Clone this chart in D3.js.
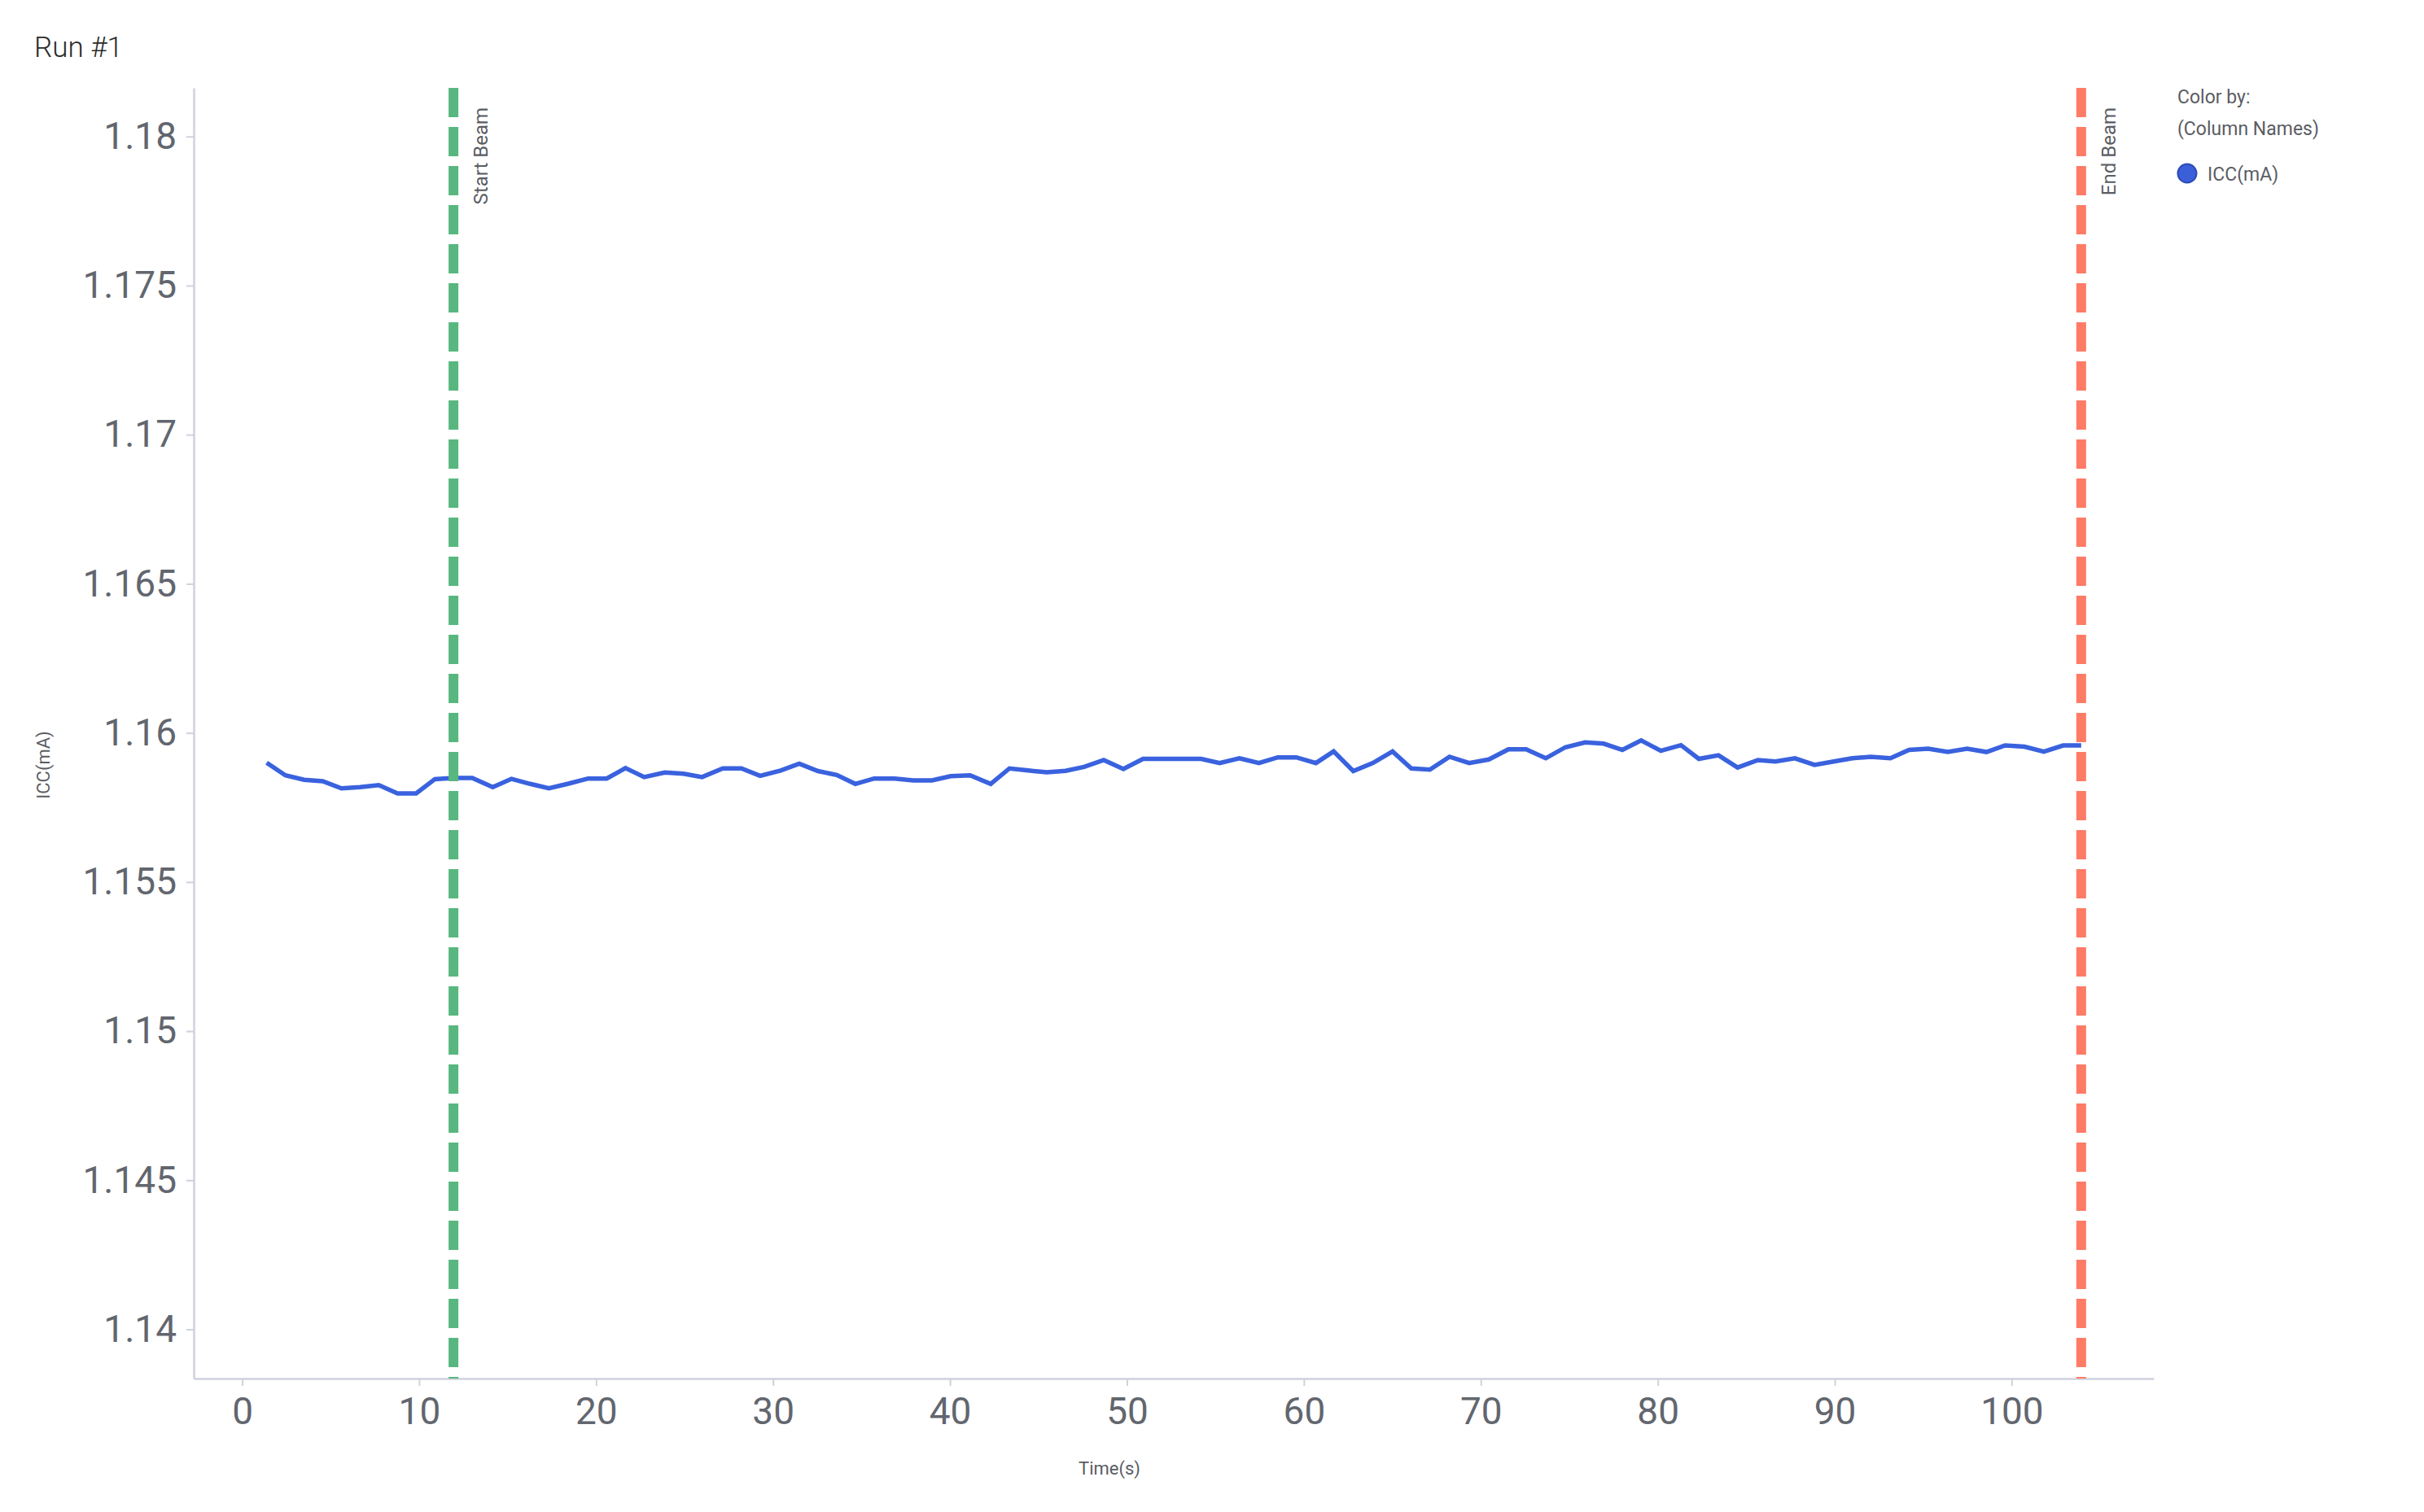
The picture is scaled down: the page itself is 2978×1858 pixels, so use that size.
<!DOCTYPE html>
<html><head><meta charset="utf-8">
<script src="https://cdn.jsdelivr.net/npm/d3@7"></script>
<style>body{margin:0;background:#fff;} svg{display:block}</style>
</head><body><svg id="c" width="2978" height="1858"></svg>
<script>
// ---- data ----
const times = [1.38,2.44,3.50,4.55,5.61,6.66,7.72,8.78,9.83,10.89,11.94,13.00,14.16,15.22,16.28,17.33,18.39,19.55,20.60,21.66,22.72,23.88,24.94,25.99,27.16,28.21,29.27,30.43,31.48,32.54,33.60,34.65,35.71,36.87,37.92,38.98,40.04,41.14,42.30,43.36,44.42,45.47,46.53,47.58,48.69,49.80,50.91,52.02,53.08,54.19,55.24,56.35,57.46,58.52,59.57,60.68,61.68,62.79,63.90,65.01,66.07,67.12,68.23,69.34,70.45,71.56,72.56,73.67,74.78,75.89,76.94,78.00,79.06,80.17,81.31,82.32,83.43,84.51,85.66,86.65,87.75,88.86,89.94,90.99,92.04,93.15,94.20,95.28,96.39,97.48,98.58,99.63,100.72,101.82,102.91,103.93];
const icc = [1.15900,1.15858,1.15843,1.15838,1.15814,1.15818,1.15825,1.15797,1.15797,1.15845,1.15849,1.15849,1.15818,1.15846,1.15829,1.15814,1.15829,1.15847,1.15847,1.15882,1.15852,1.15867,1.15863,1.15852,1.15881,1.15881,1.15856,1.15874,1.15897,1.15872,1.15859,1.15829,1.15847,1.15847,1.15841,1.15841,1.15855,1.15858,1.15829,1.15881,1.15874,1.15868,1.15873,1.15886,1.15909,1.15879,1.15913,1.15913,1.15913,1.15913,1.15899,1.15915,1.15899,1.15918,1.15918,1.15899,1.15938,1.15872,1.15899,1.15938,1.15881,1.15877,1.15920,1.15899,1.15911,1.15945,1.15945,1.15915,1.15952,1.15968,1.15964,1.15943,1.15975,1.15940,1.15959,1.15913,1.15925,1.15884,1.15909,1.15904,1.15915,1.15893,1.15904,1.15915,1.15920,1.15915,1.15943,1.15947,1.15936,1.15947,1.15936,1.15958,1.15954,1.15937,1.15958,1.15958];
const xTicks = [0,10,20,30,40,50,60,70,80,90,100];
const yTicks = [1.14,1.145,1.15,1.155,1.16,1.165,1.17,1.175,1.18];
const yTickLabels = ["1.14","1.145","1.15","1.155","1.16","1.165","1.17","1.175","1.18"];
const beamTimes = [11.94, 103.93];
const beamLabels = ["Start Beam", "End Beam"];
const seriesName = "ICC(mA)";
const title = "Run #1";
const xTitle = "Time(s)";
const legendTitle = ["Color by:", "(Column Names)"];

// ---- styles ----
const beamColors = ["#58B77F", "#FF7B66"];
const lineColor = "#3A62DE";
const axisColor = "#CFD2DE";
const tickTextColor = "#62666E";
const textColor = "#5A5D63";
const FONT = "Roboto, 'Noto Sans', sans-serif";

const svg = d3.select("#c");
const L = 238, R = 2646, T = 108, B = 1694;

const x = d3.scaleLinear().domain([-2.74, 108.03]).range([L, R]);
const y = d3.scaleLinear().domain([1.13835, 1.18163]).range([B, T]);

// title
svg.append("text").attr("x", 42).attr("y", 70).text(title)
  .attr("font-family", FONT).attr("font-weight", 300).attr("font-size", 35).attr("fill", "#2b2b2b");

// axes
const xAxis = d3.axisBottom(x).tickValues(xTicks).tickFormat(d3.format("d"))
  .tickSizeInner(9).tickSizeOuter(0).tickPadding(14);
const gx = svg.append("g").attr("transform", `translate(0,${B})`).call(xAxis);
const yAxis = d3.axisLeft(y).tickValues(yTicks).tickFormat((d, i) => yTickLabels[i])
  .tickSizeInner(9).tickSizeOuter(0).tickPadding(12);
const gy = svg.append("g").attr("transform", `translate(${L},0)`).call(yAxis);
[gx, gy].forEach(g => {
  g.select(".domain").attr("stroke", axisColor).attr("stroke-width", 2.5);
  g.selectAll(".tick line").attr("stroke", axisColor).attr("stroke-width", 2);
  g.selectAll(".tick text").attr("font-family", FONT).attr("font-size", 46).attr("fill", tickTextColor);
});

// axis titles
svg.append("text").attr("x", 1363).attr("y", 1812).attr("text-anchor", "middle").text(xTitle)
  .attr("font-family", FONT).attr("font-size", 22).attr("fill", textColor);
svg.append("text").attr("transform", "translate(61,940) rotate(-90)").attr("text-anchor", "middle").text(seriesName)
  .attr("font-family", FONT).attr("font-size", 22).attr("fill", textColor);

// series line
const pts = times.map((t, i) => [t, icc[i]]);
svg.append("path").datum(pts)
  .attr("d", d3.line().x(d => x(d[0])).y(d => y(d[1])))
  .attr("fill", "none").attr("stroke", lineColor).attr("stroke-width", 5.5).attr("stroke-linejoin", "miter");

// beam markers
beamTimes.forEach((t, i) => {
  svg.append("line").attr("x1", x(t)).attr("x2", x(t)).attr("y1", T).attr("y2", B)
    .attr("stroke", beamColors[i]).attr("stroke-width", 12).attr("stroke-dasharray", "36,12");
  svg.append("text").attr("transform", `translate(${x(t) + 42},${132}) rotate(-90)`)
    .attr("text-anchor", "end").text(beamLabels[i])
    .attr("font-family", FONT).attr("font-size", 24).attr("fill", textColor);
});

// legend
svg.append("text").attr("x", 2675).attr("y", 127).text(legendTitle[0])
  .attr("font-family", FONT).attr("font-size", 23).attr("fill", textColor);
svg.append("text").attr("x", 2675).attr("y", 166).text(legendTitle[1])
  .attr("font-family", FONT).attr("font-size", 23).attr("fill", textColor);
svg.append("circle").attr("cx", 2687).attr("cy", 213).attr("r", 11.5)
  .attr("fill", "#3A5FD8").attr("stroke", "#2C4BB5").attr("stroke-width", 2);
svg.append("text").attr("x", 2712).attr("y", 222).text(seriesName)
  .attr("font-family", FONT).attr("font-size", 23).attr("fill", textColor);
</script>
</body></html>
